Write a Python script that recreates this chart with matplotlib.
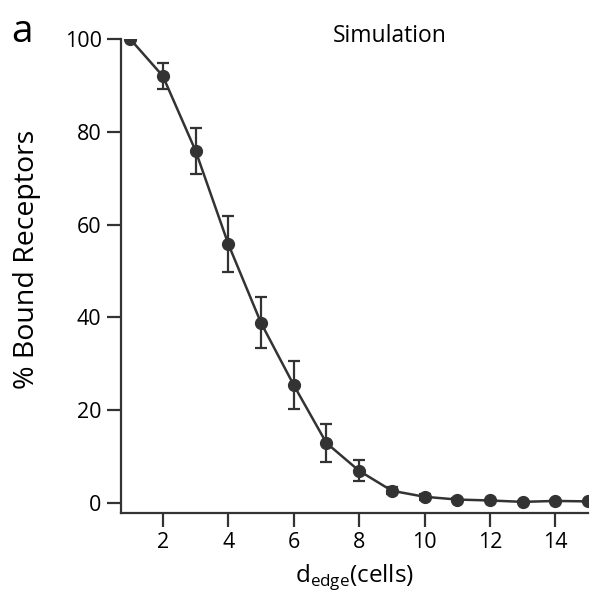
import matplotlib
matplotlib.use("Agg")
import matplotlib.pyplot as plt

plt.rcParams['font.family'] = ['Open Sans', 'DejaVu Sans']

# distance from edge (cells) vs % bound receptors
d_edge = [1, 2, 3, 4, 5, 6, 7, 8, 9, 10, 11, 12, 13, 14, 15]
bound = [100, 92.0, 75.9, 55.8, 38.8, 25.4, 12.9, 6.9, 2.6, 1.3, 0.7, 0.5, 0.2, 0.4, 0.3]
err = [0, 2.8, 5.0, 6.0, 5.5, 5.2, 4.1, 2.3, 0.7, 0.6, 0.3, 0.2, 0.1, 0.2, 0.1]

col = '#333333'

fig = plt.figure(figsize=(6.05, 6.0), dpi=100)
ax = fig.add_axes([0.2, 0.145, 0.772, 0.79])

ax.errorbar(d_edge, bound, yerr=err, color=col, lw=1.8, marker='o', ms=8.5,
            capsize=4, elinewidth=1.6, capthick=1.6)

ax.set_xlim(0.72, 15.0)
ax.set_ylim(-2.2, 100)
ax.set_xticks([2, 4, 6, 8, 10, 12, 14])
ax.set_yticks([0, 20, 40, 60, 80, 100])
ax.spines['top'].set_visible(False)
ax.spines['right'].set_visible(False)
for s in ['left', 'bottom']:
    ax.spines[s].set_linewidth(1.6)
    ax.spines[s].set_color(col)
ax.tick_params(length=10, width=1.6, color=col, labelsize=15.5, pad=4)

ax.set_ylabel('% Bound Receptors', fontsize=20.5)
ax.yaxis.set_label_coords(-0.172, 0.535)
ax.set_xlabel(r'd$_{\mathregular{edge}}$(cells)', fontsize=17.5, labelpad=6)

ax.text(0.453, 0.994, 'Simulation', transform=ax.transAxes, fontsize=16.5,
        ha='left', va='baseline')
fig.text(0.018, 0.93, 'a', fontsize=28)

fig.savefig('out.png', dpi=100)
